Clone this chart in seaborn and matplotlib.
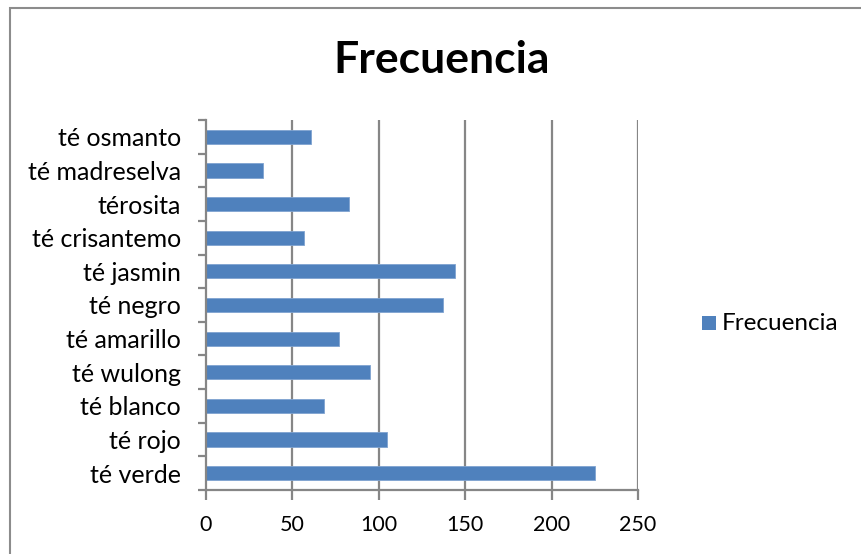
import matplotlib
matplotlib.use("Agg")
import matplotlib.pyplot as plt
from matplotlib.patches import Rectangle
from matplotlib.ticker import FixedLocator
import seaborn as sns
import pandas as pd

tes = ["té osmanto", "té madreselva", "térosita", "té crisantemo", "té jasmin",
       "té negro", "té amarillo", "té wulong", "té blanco", "té rojo", "té verde"]
frecuencia = [61, 33, 83, 57, 144, 137, 77, 95, 68, 105, 225]
x_ticks = [0, 50, 100, 150, 200, 250]

sns.set_theme(style="white")
plt.rcParams["font.family"] = ["Lato", "DejaVu Sans"]

df = pd.DataFrame({"té": tes, "Frecuencia": frecuencia})

fig = plt.figure(figsize=(8.61, 5.54), dpi=100)
ax = fig.add_axes([206 / 861, 1 - 490 / 554, 432 / 861, 370 / 554])

bar_color = "#4F81BD"
sns.barplot(data=df, x="Frecuencia", y="té", order=tes, color=bar_color,
            width=0.42, saturation=1, ax=ax, edgecolor="#7FA3D0", linewidth=0.6,
            label="Frecuencia", legend=False)

grid_col = "#868686"
ax.set_xlim(0, 250)
ax.set_ylim(len(tes) - 0.5, -0.5)
ax.set_xticks(x_ticks)
ax.set_xticklabels([str(t) for t in x_ticks], fontsize=15.5, color="black")
for t in x_ticks[1:]:
    ax.axvline(t, color=grid_col, lw=1.6, zorder=0)

ax.set_yticks(range(len(tes)))
ax.set_yticklabels(tes, fontsize=18, color="black")
ax.yaxis.set_minor_locator(FixedLocator([i - 0.5 for i in range(len(tes) + 1)]))
ax.tick_params(axis="y", which="major", length=0, pad=18)
ax.tick_params(axis="y", which="minor", length=6, width=1.6, color=grid_col, direction="out", left=True)
ax.tick_params(axis="x", which="major", length=7, width=1.6, color=grid_col, direction="out", bottom=True, pad=11)

for side in ["top", "right"]:
    ax.spines[side].set_visible(False)
for side in ["left", "bottom"]:
    ax.spines[side].set_color(grid_col)
    ax.spines[side].set_linewidth(1.6)

ax.set_xlabel("")
ax.set_ylabel("")

fig.text(0.513, 1 - 60 / 554, "Frecuencia", ha="center", va="center",
         fontsize=32, fontweight="bold", color="black")

# legend entry on the right
fig.patches.append(Rectangle((702 / 861, 1 - 330 / 554), 14 / 861, 14 / 554,
                             transform=fig.transFigure, facecolor=bar_color,
                             edgecolor="none"))
fig.text(722 / 861, 1 - 323 / 554, "Frecuencia", ha="left", va="center",
         fontsize=17.5, color="black")

# chart frame
fig.patches.append(Rectangle((10 / 861, -0.05), 1.0, 1 - 8 / 554 + 0.05,
                             transform=fig.transFigure, facecolor="none",
                             edgecolor="#8C8C8C", lw=1.5))

fig.savefig("out.png", dpi=100, facecolor="white")
